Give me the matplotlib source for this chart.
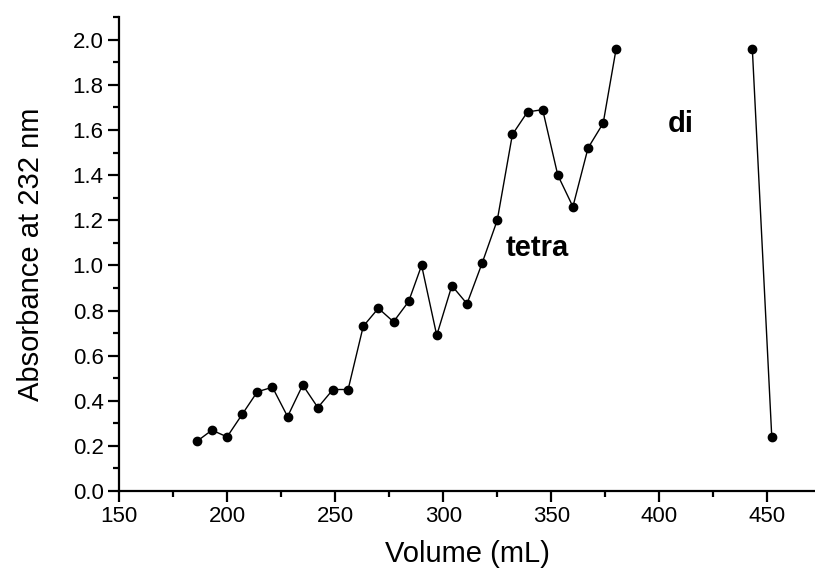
import matplotlib.pyplot as plt
from matplotlib.ticker import MultipleLocator

# fractions collected across the tetra peak
tetra_volume = [186, 193, 200, 207, 214, 221, 228, 235, 242, 249, 256, 263, 270, 277,
                284, 290, 297, 304, 311, 318, 325, 332, 339, 346, 353, 360, 367, 374, 380]
tetra_abs = [0.22, 0.27, 0.24, 0.34, 0.44, 0.46, 0.33, 0.47, 0.37, 0.45, 0.45, 0.73, 0.81, 0.75,
             0.84, 1.00, 0.69, 0.91, 0.83, 1.01, 1.20, 1.58, 1.68, 1.69, 1.40, 1.26, 1.52, 1.63, 1.96]

# di peak
di_volume = [443, 452]
di_abs = [1.96, 0.24]

plt.rcParams['font.family'] = ['Liberation Sans', 'DejaVu Sans']

fig = plt.figure(figsize=(8.15, 5.71), dpi=100)
ax = fig.add_axes([0.146, 0.140, 0.854, 0.830])

for xs, ys in [(tetra_volume, tetra_abs), (di_volume, di_abs)]:
    ax.plot(xs, ys, color='black', linewidth=1.0, marker='o', markersize=6)

ax.text(329, 1.04, 'tetra', fontsize=21, fontweight='bold')
ax.text(404, 1.59, 'di', fontsize=21, fontweight='bold')

ax.set_xlim(150, 472)
ax.set_ylim(0, 2.1)
ax.xaxis.set_major_locator(MultipleLocator(50))
ax.xaxis.set_minor_locator(MultipleLocator(25))
ax.yaxis.set_major_locator(MultipleLocator(0.2))
ax.yaxis.set_minor_locator(MultipleLocator(0.1))
ax.yaxis.set_major_formatter(lambda v, pos: f'{v:.1f}')

ax.spines['top'].set_visible(False)
ax.spines['right'].set_visible(False)
for s in ('left', 'bottom'):
    ax.spines[s].set_linewidth(1.6)
ax.tick_params(which='major', direction='out', length=8, width=1.6, labelsize=16, pad=3)
ax.tick_params(which='minor', direction='out', length=4, width=1.6)

ax.set_xlabel('Volume (mL)', fontsize=21, labelpad=9)
ax.set_ylabel('Absorbance at 232 nm', fontsize=21, labelpad=20)

fig.savefig('out.png', dpi=100)
